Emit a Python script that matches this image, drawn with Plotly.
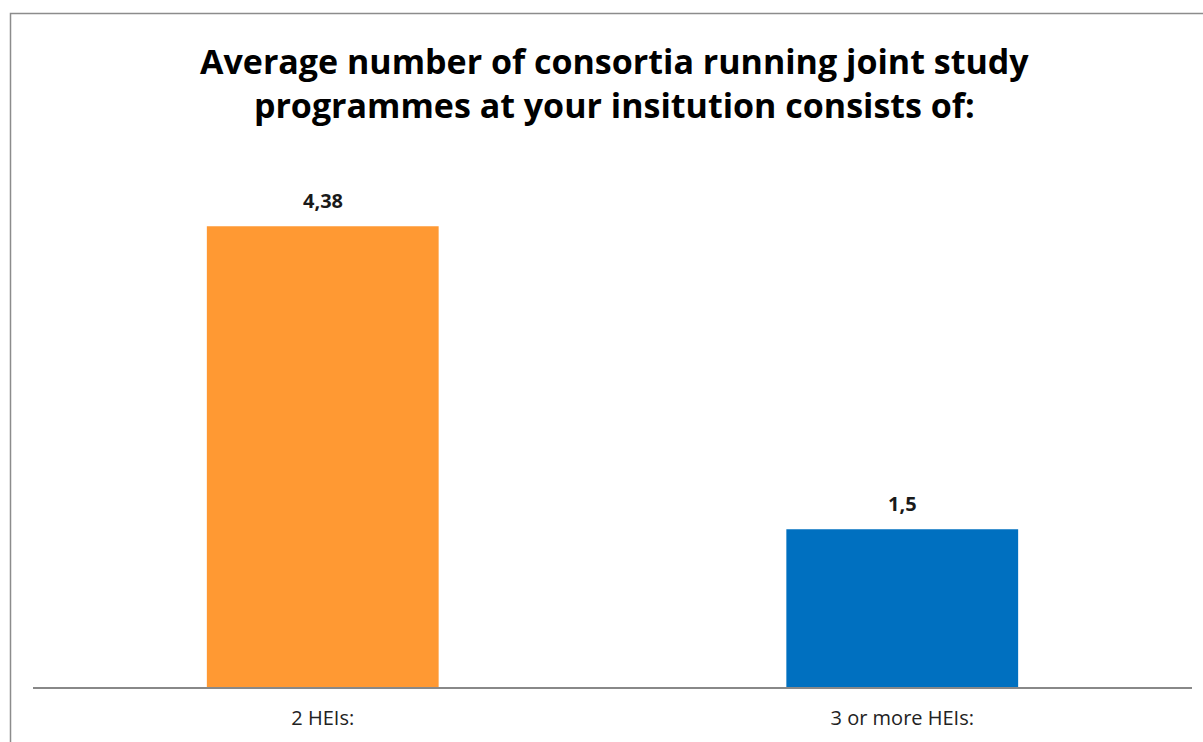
import plotly.graph_objects as go

categories = ["2 HEIs:", "3 or more HEIs:"]
values = [4.38, 1.5]
value_labels = ["4,38", "1,5"]
colors = ["#FF9933", "#0070C0"]

W, H = 1203, 742
ml, mr, mt, mb = 33, 11, 161, 55
pw, ph = W - ml - mr, H - mt - mb

def px_to_paper_x(px):
    return (px - ml) / pw

def px_to_paper_y(py):
    return (H - mb - py) / ph

fig = go.Figure()
fig.add_trace(go.Bar(
    x=categories, y=values,
    marker=dict(color=colors, line=dict(width=0)),
    width=0.4,
    hoverinfo="skip",
))

for c, v, t in zip(categories, values, value_labels):
    fig.add_annotation(x=c, y=v, text="<b>%s</b>" % t, showarrow=False,
                       yanchor="bottom", yshift=10,
                       font=dict(family="Open Sans", size=20, color="#1a1a1a"))

fig.add_annotation(
    text="<b>Average number of consortia running joint study<br>programmes at your insitution consists of:</b>",
    xref="paper", yref="paper",
    x=px_to_paper_x(614), y=px_to_paper_y(83),
    xanchor="center", yanchor="middle", showarrow=False,
    font=dict(family="Open Sans", size=34, color="#000000"),
)

fig.add_shape(type="rect", xref="paper", yref="paper",
              x0=px_to_paper_x(10.5), x1=px_to_paper_x(1215),
              y0=px_to_paper_y(760), y1=px_to_paper_y(13.5),
              line=dict(color="#8c8c8c", width=1.5), fillcolor="rgba(0,0,0,0)",
              layer="below")

fig.update_layout(
    width=W, height=H,
    margin=dict(l=ml, r=mr, t=mt, b=mb),
    plot_bgcolor="white", paper_bgcolor="white",
    showlegend=False,
    bargap=0.6,
    xaxis=dict(showline=True, linecolor="#888888", linewidth=1.5,
               ticks="", ticklabelstandoff=12,
               tickfont=dict(family="Open Sans", size=20, color="#222222"),
               showgrid=False, fixedrange=True),
    yaxis=dict(range=[0, 5], visible=False, showgrid=False, zeroline=False,
               fixedrange=True),
)

fig.write_html("out.html", config={"displayModeBar": False},
               post_script="document.body.style.margin='0';document.body.style.overflow='hidden';")
